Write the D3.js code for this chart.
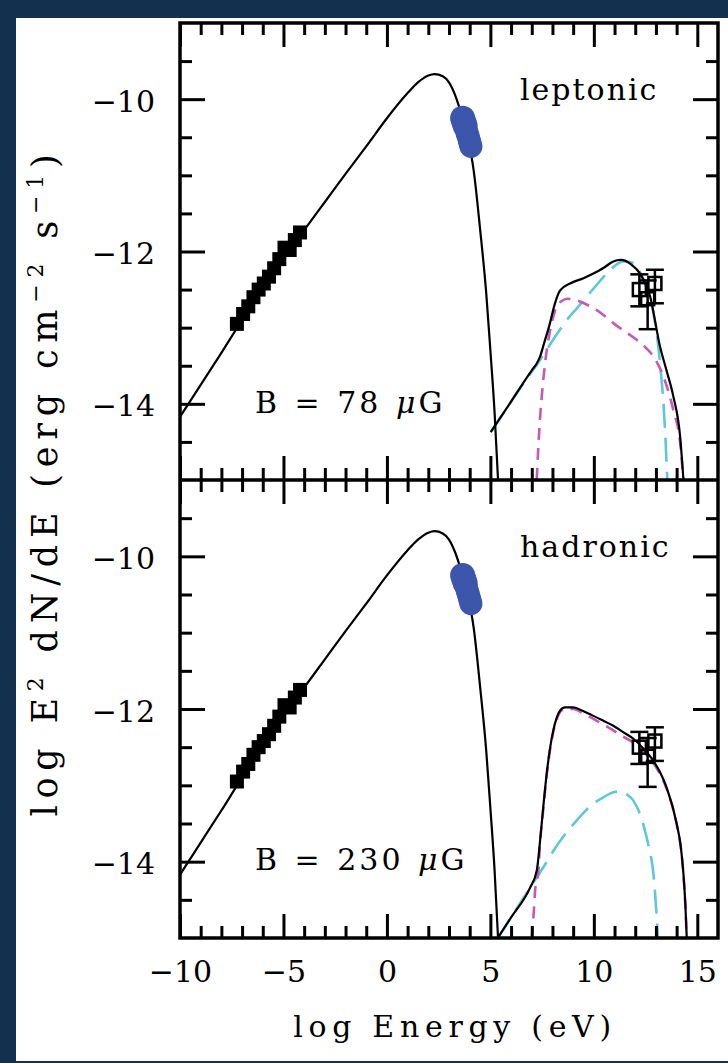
<!DOCTYPE html>
<html>
<head>
<meta charset="utf-8">
<script src="https://cdn.jsdelivr.net/npm/d3@7"></script>
<style>
  body { margin: 0; background: #14304f; }
  svg { display: block; }
  text { font-family: "DejaVu Serif", serif; fill: #000; }
</style>
</head>
<body>
<div id="chart"></div>
<script>
// synchrotron model (same in both panels)
var synX = [-10, -9, -8, -7, -6, -5, -4, -3, -2, -1, 0, 1, 1.5, 2, 2.3, 2.7, 3.0, 3.3, 3.6, 3.9, 4.2, 4.5, 4.8, 5.0, 5.2, 5.37];
var synY = [-14.17, -13.75, -13.33, -12.9, -12.5, -12.1, -11.72, -11.35, -10.98, -10.62, -10.25, -9.92, -9.78, -9.69, -9.67, -9.70, -9.78, -9.95, -10.2, -10.5, -10.95, -11.7, -12.55, -13.3, -14.1, -15];

// radio points (filled squares)
var radioX = [-7.25, -6.95, -6.7, -6.45, -6.2, -5.95, -5.7, -5.45, -5.2, -4.95, -4.7, -4.45, -4.2];
var radioY = [-12.95, -12.82, -12.72, -12.6, -12.5, -12.42, -12.33, -12.22, -12.1, -11.95, -11.98, -11.85, -11.75];

// X-ray points (blue blob)
var xrayX = [3.66, 3.72, 3.78, 3.83, 3.88, 3.93, 3.98, 4.02, 4.06];
var xrayY = [-10.25, -10.30, -10.35, -10.40, -10.45, -10.49, -10.54, -10.58, -10.62];

// TeV points with error bars
var tevX = [12.2, 12.6, 12.95];
var tevY = [-12.5, -12.62, -12.42];
var tevLo = [-12.72, -13.02, -12.68];
var tevHi = [-12.3, -12.38, -12.24];

// leptonic model
var lepTotX = [5.02, 6.0, 7.0, 7.24, 7.4, 7.6, 7.88, 8.1, 8.37, 8.85, 9.5, 9.98, 10.5, 10.94, 11.3, 11.51, 11.8, 12.23, 12.72, 13.2, 13.5, 13.84, 14.17, 14.33];
var lepTotY = [-14.37, -13.97, -13.56, -13.47, -13.38, -13.2, -12.94, -12.7, -12.51, -12.42, -12.35, -12.29, -12.21, -12.13, -12.11, -12.12, -12.17, -12.29, -12.59, -13.25, -13.55, -13.9, -14.43, -15];
var lepBremX = [7.24, 7.35, 7.48, 7.65, 7.8, 8.0, 8.2, 8.45, 8.69, 9.17, 9.82, 10.4, 10.94, 11.5, 12.07, 12.5, 12.88, 13.36, 13.84, 14.17, 14.33];
var lepBremY = [-15, -14.4, -13.91, -13.45, -13.16, -12.9, -12.72, -12.65, -12.62, -12.64, -12.72, -12.82, -12.94, -13.05, -13.16, -13.26, -13.38, -13.64, -14.08, -14.51, -15];
var lepICX = [5.02, 6.0, 7.0, 7.24, 7.72, 8.2, 8.69, 9.2, 9.66, 10.1, 10.62, 11.0, 11.43, 11.91, 12.39, 12.88, 13.2, 13.44, 13.55];
var lepICY = [-14.37, -13.97, -13.58, -13.49, -13.29, -13.09, -12.90, -12.74, -12.59, -12.45, -12.29, -12.19, -12.13, -12.15, -12.37, -12.81, -13.47, -14.34, -15];

// hadronic model
var hadTotX = [5.31, 6.0, 6.92, 7.24, 7.4, 7.55, 7.72, 7.88, 8.04, 8.2, 8.37, 8.6, 9.01, 9.5, 9.98, 10.5, 10.94, 11.4, 11.91, 12.4, 12.88, 13.2, 13.52, 14.01, 14.2, 14.33, 14.42, 14.49];
var hadTotY = [-15.02, -14.73, -14.34, -14.12, -13.73, -13.3, -12.85, -12.52, -12.28, -12.12, -12.02, -11.98, -11.98, -12.03, -12.09, -12.16, -12.22, -12.3, -12.39, -12.52, -12.68, -12.83, -13.03, -13.51, -13.8, -14.16, -14.55, -15];
var hadPionX = [7.0, 7.1, 7.16, 7.32, 7.4, 7.55, 7.72, 7.88, 8.04, 8.2, 8.37, 8.6, 9.01, 9.5, 9.98, 10.5, 10.94, 11.4, 11.91, 12.4, 12.88, 13.2, 13.52, 14.01, 14.2, 14.33, 14.42, 14.49];
var hadPionY = [-15, -14.65, -14.38, -14.12, -13.76, -13.33, -12.87, -12.54, -12.3, -12.14, -12.04, -12.0, -12.0, -12.06, -12.13, -12.21, -12.28, -12.36, -12.44, -12.56, -12.71, -12.85, -13.05, -13.52, -13.81, -14.17, -14.56, -15];
var hadICX = [5.31, 6.0, 6.92, 7.5, 8.04, 8.5, 9.01, 9.5, 9.98, 10.5, 10.94, 11.27, 11.6, 11.91, 12.39, 12.65, 12.88, 13.04, 13.1];
var hadICY = [-15.02, -14.73, -14.34, -14.1, -13.86, -13.68, -13.51, -13.36, -13.24, -13.15, -13.09, -13.08, -13.12, -13.2, -13.51, -13.8, -14.16, -14.73, -15];

// ticks
var xMajor = [-10, -5, 0, 5, 10, 15];
var yMajor = [-14, -12, -10];

var svgWidth = 728, svgHeight = 1063;
var left = 180, right = 718;

var svg = d3.select("#chart").append("svg").attr("width", svgWidth).attr("height", svgHeight);
svg.append("rect").attr("width", svgWidth).attr("height", svgHeight).attr("fill", "#14304f");
svg.append("rect").attr("x", 16).attr("y", 18).attr("width", 712).attr("height", 1043).attr("fill", "#fff");

var xScale = d3.scaleLinear().domain([-10, 16]).range([left, right]);
var xMinor = d3.range(-9, 16, 1).filter(function(d) { return d % 5 !== 0; });
var yMinor = d3.range(-14.5, -9.4, 0.5).filter(function(d) { return d % 2 !== 0; });
var fmt = d3.format("d");

function zip(xs, ys) { return xs.map(function(d, i) { return [d, ys[i]]; }); }

var panels = [
    { top: 23, bottom: 480, name: "leptonic", field: "B = 78 ", tot: zip(lepTotX, lepTotY), mag: zip(lepBremX, lepBremY), cyan: zip(lepICX, lepICY) },
    { top: 480, bottom: 938, name: "hadronic", field: "B = 230 ", tot: zip(hadTotX, hadTotY), mag: zip(hadPionX, hadPionY), cyan: zip(hadICX, hadICY) }
];

panels.forEach(function(p, pi) {
    var yScale = d3.scaleLinear().domain([-15, -9]).range([p.bottom, p.top]);
    var line = d3.line()
        .x(function(d) { return xScale(d[0]); })
        .y(function(d) { return yScale(d[1]); })
        .curve(d3.curveMonotoneX);

    svg.append("clipPath").attr("id", "clip" + pi)
        .append("rect").attr("x", left).attr("y", p.top).attr("width", right - left).attr("height", p.bottom - p.top);
    var g = svg.append("g").attr("clip-path", "url(#clip" + pi + ")");

    // model curves
    g.append("path").attr("d", line(p.cyan)).attr("fill", "none")
        .attr("stroke", "#5cc8dc").attr("stroke-width", 2.6).attr("stroke-dasharray", "24,10");
    g.append("path").attr("d", line(p.mag)).attr("fill", "none")
        .attr("stroke", "#c45ab8").attr("stroke-width", 2.6).attr("stroke-dasharray", "12,8");
    g.append("path").attr("d", line(p.tot)).attr("fill", "none")
        .attr("stroke", "#000").attr("stroke-width", 2.2);
    g.append("path").attr("d", line(zip(synX, synY))).attr("fill", "none")
        .attr("stroke", "#000").attr("stroke-width", 2.2);

    // X-ray blob
    g.selectAll(".xr").data(zip(xrayX, xrayY)).enter().append("circle")
        .attr("cx", function(d) { return xScale(d[0]); })
        .attr("cy", function(d) { return yScale(d[1]); })
        .attr("r", function(d, i) { return i < 3 ? 12.5 : 11.5; })
        .attr("fill", "#3b56aa");

    // radio squares
    g.selectAll(".rd").data(zip(radioX, radioY)).enter().append("rect")
        .attr("x", function(d) { return xScale(d[0]) - 7; })
        .attr("y", function(d) { return yScale(d[1]) - 7; })
        .attr("width", 14).attr("height", 14).attr("fill", "#000");

    // TeV points
    tevX.forEach(function(tx, i) {
        var cx = xScale(tx);
        g.append("line").attr("x1", cx).attr("x2", cx)
            .attr("y1", yScale(tevLo[i])).attr("y2", yScale(tevHi[i]))
            .attr("stroke", "#000").attr("stroke-width", 2.5);
        [tevLo[i], tevHi[i]].forEach(function(v) {
            g.append("line").attr("x1", cx - 9).attr("x2", cx + 9)
                .attr("y1", yScale(v)).attr("y2", yScale(v))
                .attr("stroke", "#000").attr("stroke-width", 2.5);
        });
        g.append("rect").attr("x", cx - 6.5).attr("y", yScale(tevY[i]) - 6.5)
            .attr("width", 13).attr("height", 13)
            .attr("fill", "none").attr("stroke", "#000").attr("stroke-width", 2.5);
    });

    // axes, ticks pointing inward
    var axes = svg.append("g");
    axes.append("g").attr("class", "ylab").attr("transform", `translate(${left},0)`)
        .call(d3.axisLeft(yScale).tickValues(yMajor).tickFormat(fmt).tickSizeInner(-25).tickSizeOuter(0).tickPadding(25));
    axes.append("g").attr("transform", `translate(${left},0)`)
        .call(d3.axisLeft(yScale).tickValues(yMinor).tickSize(-12).tickFormat(""));
    axes.append("g").attr("transform", `translate(${right},0)`)
        .call(d3.axisRight(yScale).tickValues(yMajor).tickSize(-25).tickFormat(""));
    axes.append("g").attr("transform", `translate(${right},0)`)
        .call(d3.axisRight(yScale).tickValues(yMinor).tickSize(-12).tickFormat(""));
    axes.append("g").attr("transform", `translate(0,${p.top})`)
        .call(d3.axisTop(xScale).tickValues(xMajor).tickSize(-24).tickFormat(""));
    axes.append("g").attr("transform", `translate(0,${p.top})`)
        .call(d3.axisTop(xScale).tickValues(xMinor).tickSize(-12).tickFormat(""));
    var bottomMajor = d3.axisBottom(xScale).tickValues(xMajor).tickFormat(pi === 0 ? "" : fmt)
        .tickSizeInner(-24).tickSizeOuter(0).tickPadding(23);
    axes.append("g").attr("transform", `translate(0,${p.bottom})`).call(bottomMajor);
    axes.append("g").attr("transform", `translate(0,${p.bottom})`)
        .call(d3.axisBottom(xScale).tickValues(xMinor).tickSize(-12).tickFormat(""));

    axes.selectAll(".domain").remove();
    axes.selectAll(".tick line").attr("stroke", "#000").attr("stroke-width", 3);
    axes.selectAll(".tick text").attr("font-family", "DejaVu Serif").attr("font-size", 30).attr("fill", "#000");
    axes.selectAll(".ylab .tick text").attr("dy", "0.4em");

    // panel labels
    svg.append("text").attr("x", 520).attr("y", p.top + 77)
        .attr("font-size", 30).attr("letter-spacing", 2)
        .text(p.name);
    var bt = svg.append("text").attr("x", 255).attr("y", p.top + 390)
        .attr("font-size", 30).attr("letter-spacing", 3).attr("word-spacing", 2)
        .attr("xml:space", "preserve");
    bt.append("tspan").text(p.field);
    bt.append("tspan").attr("font-style", "italic").text("μ");
    bt.append("tspan").text("G");
});

// frame
svg.append("rect").attr("x", left).attr("y", 23).attr("width", right - left).attr("height", 938 - 23)
    .attr("fill", "none").attr("stroke", "#000").attr("stroke-width", 3.5);
svg.append("line").attr("x1", left).attr("x2", right).attr("y1", 480).attr("y2", 480)
    .attr("stroke", "#000").attr("stroke-width", 3.5);

// axis titles
svg.append("text").attr("x", 455).attr("y", 1037).attr("text-anchor", "middle")
    .attr("font-size", 30).attr("letter-spacing", 5.7)
    .text("log Energy (eV)");

var yt = svg.append("text").attr("transform", "translate(57,482) rotate(-90)")
    .attr("text-anchor", "middle").attr("font-size", 35).attr("letter-spacing", 6.8);
yt.append("tspan").text("log E");
yt.append("tspan").attr("font-size", 22).attr("dy", -14).text("2");
yt.append("tspan").attr("dy", 14).text(" dN/dE (erg cm");
yt.append("tspan").attr("font-size", 22).attr("dy", -14).text("−2");
yt.append("tspan").attr("dy", 14).text(" s");
yt.append("tspan").attr("font-size", 22).attr("dy", -14).text("−1");
yt.append("tspan").attr("dy", 14).text(")");
</script>
</body>
</html>
